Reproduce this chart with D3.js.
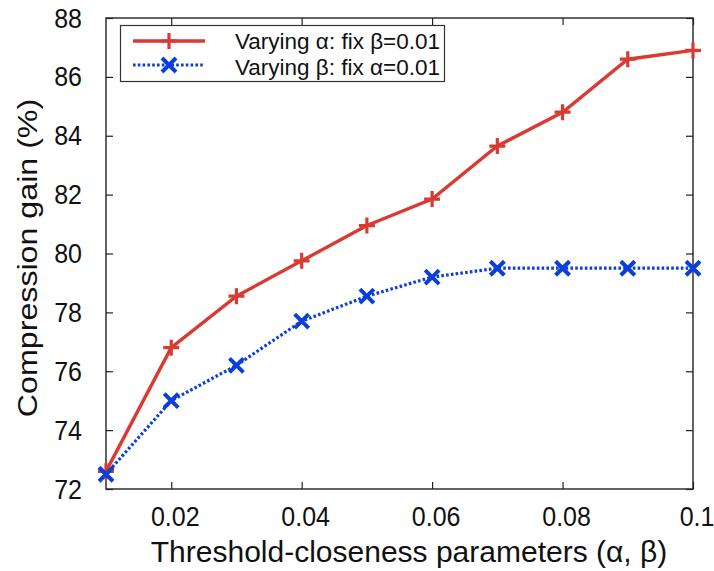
<!DOCTYPE html>
<html>
<head>
<meta charset="utf-8">
<script src="https://cdn.jsdelivr.net/npm/d3@7"></script>
<style>
  body { margin: 0; background: #fff; }
  svg text { font-family: "Liberation Sans", Arial, Helvetica, sans-serif; fill: #111; }
</style>
</head>
<body>
<div id="chart"></div>
<script>
// values
const params = [0.01, 0.02, 0.03, 0.04, 0.05, 0.06, 0.07, 0.08, 0.09, 0.1];
const gainAlpha = [72.6, 76.8, 78.55, 79.75, 80.95, 81.85, 83.65, 84.8, 86.6, 86.9];
const gainBeta = [72.5, 75.0, 76.2, 77.7, 78.55, 79.2, 79.5, 79.5, 79.5, 79.5];
const xTicks = [0.02, 0.04, 0.06, 0.08, 0.1];
const yTicks = [72, 74, 76, 78, 80, 82, 84, 86, 88];
const seriesNames = ["Varying \u03b1: fix \u03b2=0.01", "Varying \u03b2: fix \u03b1=0.01"];

const width = 714, height = 571;
const margin = { top: 18, right: 21, bottom: 82, left: 106 };
const innerW = width - margin.left - margin.right;
const innerH = height - margin.top - margin.bottom;

const red = "#d93a32";
const blue = "#0b3fd9";

const svg = d3.select("#chart")
    .append("svg")
    .attr("width", width)
    .attr("height", height);

const x = d3.scaleLinear().domain([0.01, 0.1]).range([0, innerW]);
const y = d3.scaleLinear().domain([72, 88]).range([innerH, 0]);

const g = svg.append("g")
    .attr("transform", `translate(${margin.left}, ${margin.top})`);

// inward ticks on all four sides, labels drawn separately
const tickLen = 7;
g.append("g")
    .attr("transform", `translate(0, ${innerH})`)
    .call(d3.axisBottom(x).tickValues(xTicks).tickSizeInner(-tickLen).tickSizeOuter(0).tickFormat(""));
g.append("g")
    .call(d3.axisTop(x).tickValues(xTicks).tickSizeInner(-tickLen).tickSizeOuter(0).tickFormat(""));
g.append("g")
    .call(d3.axisLeft(y).tickValues(yTicks).tickSizeInner(-tickLen).tickSizeOuter(0).tickFormat(""));
g.append("g")
    .attr("transform", `translate(${innerW}, 0)`)
    .call(d3.axisRight(y).tickValues(yTicks).tickSizeInner(-tickLen).tickSizeOuter(0).tickFormat(""));
g.selectAll(".domain").remove();
g.selectAll(".tick line").attr("stroke", "#222").attr("stroke-width", 1.2);

// frame
g.append("rect")
    .attr("width", innerW)
    .attr("height", innerH)
    .attr("fill", "none")
    .attr("stroke", "#222")
    .attr("stroke-width", 1.4);

// tick labels (picture is a bit stretched vertically)
const sy = 1.08;
g.selectAll(".xlab")
    .data(xTicks)
    .enter()
    .append("text")
    .attr("text-anchor", "middle")
    .attr("transform", d => `translate(${x(d) + 4}, ${innerH + 37}) scale(1, ${sy})`)
    .style("font-size", "25px")
    .text(d => d3.format("~g")(d));

g.selectAll(".ylab")
    .data(yTicks)
    .enter()
    .append("text")
    .attr("text-anchor", "end")
    .attr("transform", d => `translate(-24, ${y(d) + 9.5}) scale(1, ${sy})`)
    .style("font-size", "25px")
    .text(d => d);

// axis titles
svg.append("text")
    .attr("text-anchor", "middle")
    .attr("transform", `translate(409, 562)`)
    .style("font-size", "30px")
    .text("Threshold-closeness parameters (\u03b1, \u03b2)");

svg.append("text")
    .attr("text-anchor", "middle")
    .attr("transform", `translate(37, 258) rotate(-90) scale(1.15, 1)`)
    .style("font-size", "28px")
    .text("Compression gain (%)");

// lines
const lineAlpha = d3.line().x((d, i) => x(params[i])).y(d => y(d));

g.append("path")
    .datum(gainBeta)
    .attr("d", lineAlpha)
    .attr("fill", "none")
    .attr("stroke", blue)
    .attr("stroke-width", 3.2)
    .attr("stroke-dasharray", "2.6,2.2");

g.append("path")
    .datum(gainAlpha)
    .attr("d", lineAlpha)
    .attr("fill", "none")
    .attr("stroke", red)
    .attr("stroke-width", 3.4);

// markers
function plus(sel, s) {
    sel.append("path")
        .attr("d", `M${-s},0H${s}M0,${-s}V${s}`)
        .attr("stroke", red)
        .attr("stroke-width", 3.2)
        .attr("fill", "none");
}
function cross(sel, s) {
    sel.append("path")
        .attr("d", `M${-s},${-s}L${s},${s}M${-s},${s}L${s},${-s}`)
        .attr("stroke", blue)
        .attr("stroke-width", 4)
        .attr("fill", "none");
}

g.selectAll(".mA")
    .data(gainAlpha)
    .enter()
    .append("g")
    .attr("transform", (d, i) => `translate(${x(params[i])}, ${y(d)})`)
    .call(plus, 8);

g.selectAll(".mB")
    .data(gainBeta)
    .enter()
    .append("g")
    .attr("transform", (d, i) => `translate(${x(params[i])}, ${y(d)})`)
    .call(cross, 7);

// legend
const legend = svg.append("g");
legend.append("rect")
    .attr("x", 120.5)
    .attr("y", 25.5)
    .attr("width", 324)
    .attr("height", 56)
    .attr("fill", "#fff")
    .attr("stroke", "#333")
    .attr("stroke-width", 1.2);

const legRows = [
    { name: seriesNames[0], color: red, dash: null, w: 3.4, y: 41, ty: 49, mark: plus },
    { name: seriesNames[1], color: blue, dash: "2.6,2.2", w: 3.2, y: 65, ty: 74.5, mark: cross }
];
legRows.forEach(r => {
    legend.append("line")
        .attr("x1", 133).attr("x2", 205)
        .attr("y1", r.y).attr("y2", r.y)
        .attr("stroke", r.color)
        .attr("stroke-width", r.w)
        .attr("stroke-dasharray", r.dash);
    legend.append("g")
        .attr("transform", `translate(169, ${r.y})`)
        .call(r.mark, r.mark === plus ? 8 : 7);
    legend.append("text")
        .attr("x", 235)
        .attr("y", r.ty)
        .style("font-size", "22.5px")
        .text(r.name);
});
</script>
</body>
</html>
